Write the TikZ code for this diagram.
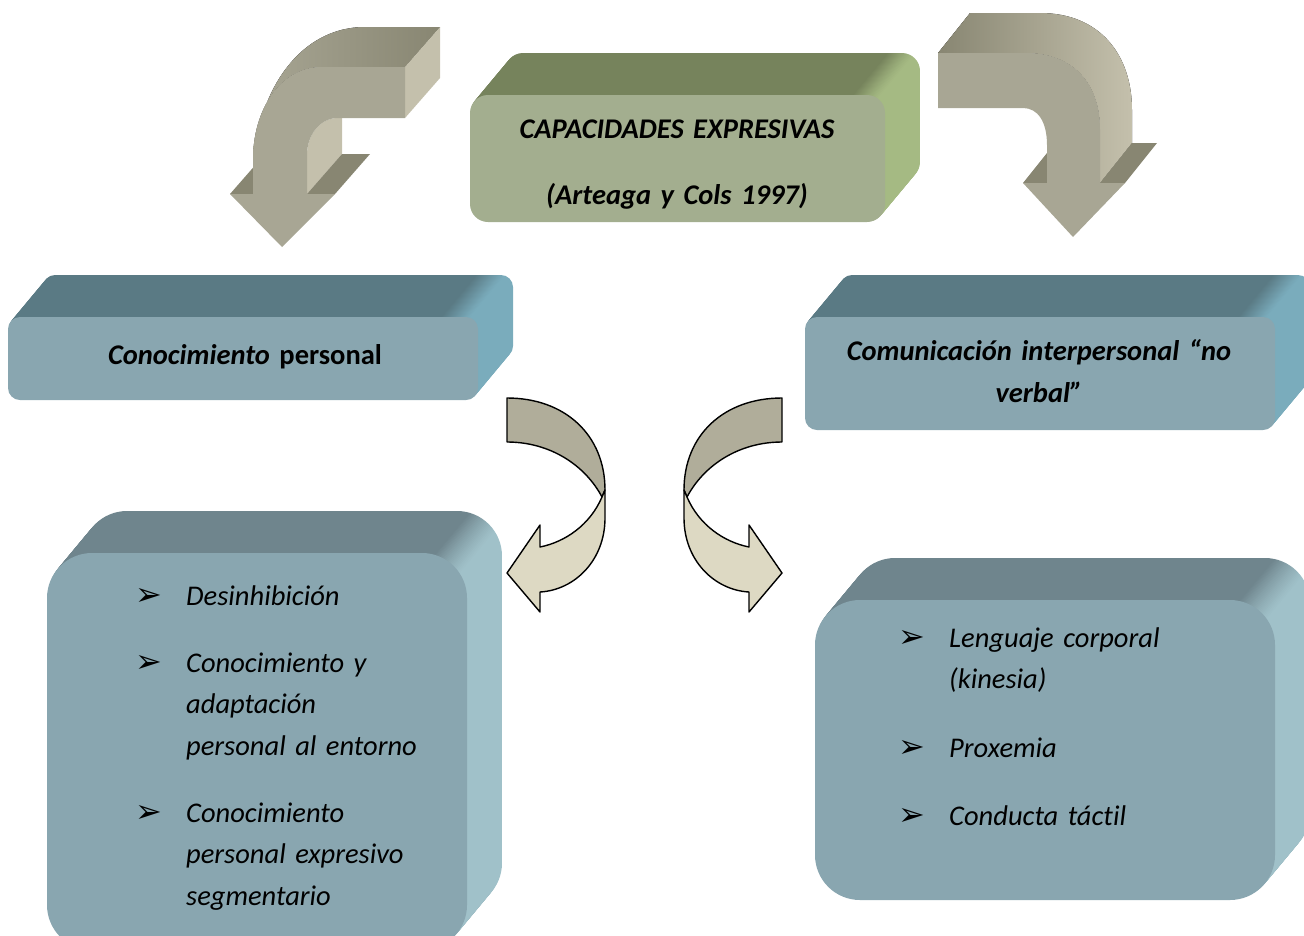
\documentclass[tikz,border=0pt]{standalone}
\usepackage{fontspec}
\setmainfont{Carlito}[Ligatures=NoCommon]
\newfontfamily\dingfont{DejaVu Sans}
\definecolor{gfront}{RGB}{163,174,143}
\definecolor{gtop}{RGB}{118,131,92}
\definecolor{gside}{RGB}{165,186,131}
\definecolor{bfront}{RGB}{137,166,176}
\definecolor{btop}{RGB}{90,122,132}
\definecolor{bside}{RGB}{122,172,188}
\definecolor{cfront}{RGB}{137,166,176}
\definecolor{ctop}{RGB}{111,133,141}
\definecolor{cside}{RGB}{160,193,201}
\definecolor{afront}{RGB}{168,166,148}
\definecolor{adark}{RGB}{136,134,114}
\definecolor{alight}{RGB}{196,192,172}
\definecolor{kdark}{RGB}{176,173,154}
\definecolor{klight}{RGB}{221,217,195}
\colorlet{slabtop}{ctop}
\colorlet{slabside}{cside}
\pgfdeclarehorizontalshading[slabtop,slabside]{slabshade}{100bp}{color(0bp)=(slabtop); color(71bp)=(slabtop); color(74bp)=(slabside); color(100bp)=(slabside)}
\tikzset{heading/.style={font=\fontsize{28.5}{42}\selectfont\bfseries\itshape, text width=#1, align=center, inner sep=0pt, anchor=base}, heading/.default=460,
  itemtext/.style={font=\fontsize{28.5}{41.5}\selectfont\itshape, text width=#1, align=left, inner sep=0pt, anchor=base west}, itemtext/.default=300,
  bullet/.style={font=\dingfont\fontsize{32}{32}\selectfont, inner sep=0pt, anchor=base},
  twist/.style={draw=black, line width=1.4pt, line join=round}}
\newcommand{\slab}[6]{%
  \colorlet{slabtop}{#6top}\colorlet{slabside}{#6side}%
  \foreach \k in {35,34,...,1}
    \shade[shading=slabshade, rounded corners=#5, shift={(\k,-1.2*\k)}] (#1,#2) rectangle (#3,#4);
  \fill[#6front,rounded corners=#5] (#1,#2) rectangle (#3,#4);}
\newcommand{\twistarrow}{%
  \filldraw[twist, fill=kdark] (507,398) .. controls (565,398) and (605,435) .. (605,490) -- (602,497) .. controls (585,465) and (550,442) .. (507,442) -- cycle;
  \filldraw[twist, fill=klight] (602,497) -- (605,490) -- (605,518) .. controls (605,560) and (575,590) .. (540,592) -- (540,612) -- (507,573) -- (540,525) -- (540,547) .. controls (565,542) and (590,525) .. (602,497) -- cycle;}

\begin{document}
\begin{tikzpicture}[x=1pt,y=-1pt]
    \useasboundingbox (0,0) rectangle (1304,935);
    \clip (0,0) rectangle (1304,935);
    % bent arrows at the top
    \fill[left color=afront, right color=adark] (405,67) -- (440,27) -- (365,27) .. controls (300,27) and (258,90) .. (253,165) -- (253,160) .. controls (253,110) and (280,67) .. (322,67) -- cycle;
    \fill[alight] (405,67) -- (440,27) -- (440,78) -- (405,118) -- cycle;
    \fill[alight] (338,118) .. controls (320,118) and (307,135) .. (307,155) -- (307,194) -- (342,154) -- (342,118) -- cycle;
    \fill[adark] (230,194) -- (265,154) -- (288,154) -- (253,194) -- cycle;
    \fill[adark] (307,194) -- (342,154) -- (370,154) -- (335,194) -- cycle;
    \fill[afront] (405,67) -- (405,118) -- (338,118) .. controls (320,118) and (307,135) .. (307,155) -- (307,194) -- (335,194) -- (282,247) -- (230,194) -- (253,194) -- (253,160) .. controls (253,110) and (280,67) .. (322,67) -- cycle;
    \fill[left color=adark, right color=alight] (938,53) -- (970,13) -- (1040,13) .. controls (1100,13) and (1132,55) .. (1132,110) -- (1132,143) -- (1100,183) -- (1100,130) .. controls (1100,85) and (1075,53) .. (1025,53) -- cycle;
    \fill[adark] (1023,183) -- (1055,143) -- (1079,143) -- (1047,183) -- cycle;
    \fill[adark] (1100,183) -- (1132,143) -- (1157,143) -- (1125,183) -- cycle;
    \fill[afront] (938,53) -- (1025,53) .. controls (1075,53) and (1100,85) .. (1100,130) -- (1100,183) -- (1125,183) -- (1073,237) -- (1023,183) -- (1047,183) -- (1047,145) .. controls (1047,122) and (1038,108) .. (1023,108) -- (938,108) -- cycle;
    % slabs
    \slab{470}{95}{885}{222}{18}{g}
    \slab{8}{317}{478}{400}{12}{b}
    \slab{805}{317}{1275}{430}{12}{b}
    \slab{47}{553}{467}{950}{45}{c}
    \slab{815}{600}{1275}{900}{45}{c}
    \twistarrow
    \begin{scope}[shift={(1289,0)},xscale=-1]
        \twistarrow
    \end{scope}
    \node[heading=420] (cap) at (677,138) {CAPACIDADES EXPRESIVAS\\[24pt](Arteaga y Cols 1997)};
    \node[heading] (conp) at (245,364) {Conocimiento \upshape personal};
    \node[heading=470] (comu) at (1039,360) {Comunicación interpersonal “no\\ verbal”};
    \foreach \yb/\txt [count=\i] in {605/Desinhibición, 672/{Conocimiento y\\ adaptación\\ personal al entorno}, 822/{Conocimiento\\ personal expresivo\\ segmentario}} {
        \node[bullet] (lb\i) at (149,\yb) {➢};
        \node[itemtext] (li\i) at (186,\yb) {\txt};
    }
    \foreach \yb/\txt [count=\i] in {647/{Lenguaje corporal\\ (kinesia)}, 757/Proxemia, 825/Conducta táctil} {
        \node[bullet] (rb\i) at (912,\yb) {➢};
        \node[itemtext] (ri\i) at (949,\yb) {\txt};
    }
\end{tikzpicture}
\end{document}
